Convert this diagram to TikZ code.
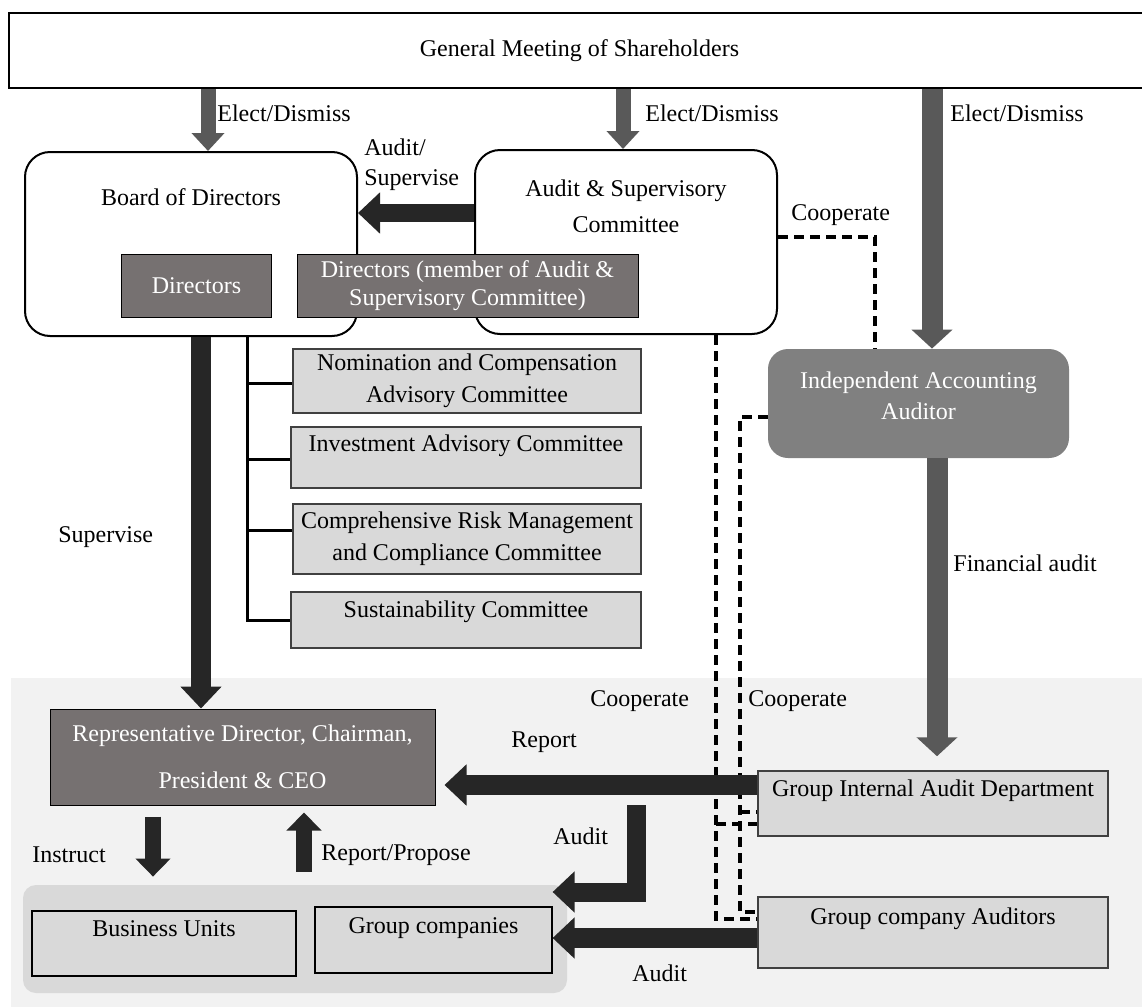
\documentclass[tikz,border=0pt]{standalone}
\usepackage{fontspec}
\setmainfont{Liberation Serif}
\usepackage{xcolor}
\usetikzlibrary{calc}
\usetikzlibrary{arrows.meta}
\definecolor{drk}{HTML}{262626}
\definecolor{gry}{HTML}{595959}
\definecolor{dirfill}{HTML}{767171}
\definecolor{iaafill}{HTML}{808080}
\definecolor{boxfill}{HTML}{D9D9D9}
\definecolor{bgfill}{HTML}{F2F2F2}
\definecolor{boxline}{HTML}{404040}

\begin{document}
\begin{tikzpicture}[x=0.5pt,y=-0.5pt,
    every node/.style={font=\fontsize{12}{16}\selectfont},
    lbl/.style={inner sep=0pt, anchor=west},
    roundbox/.style={draw, line width=1pt, fill=white, rounded corners=12.5pt, inner sep=0pt},
    darkbox/.style={draw=black, line width=0.5pt, fill=dirfill, text=white, align=center, inner sep=0pt},
    combox/.style={draw=boxline, line width=0.75pt, fill=boxfill, align=center, inner sep=0pt},
    unitbox/.style={draw=black, line width=0.6pt, fill=boxfill, inner sep=0pt},
    grayarr/.style={gry, line width=7.5pt, -{Triangle[width=16pt,length=9pt]}},
    bigarr/.style={gry, line width=10.5pt, -{Triangle[width=20pt,length=9.5pt]}},
    blk/.style={drk, line width=10pt, -{Triangle[width=20pt,length=11pt]}},
    blksm/.style={drk, line width=8pt, -{Triangle[width=17pt,length=9pt]}},
    dsh/.style={line width=1.75pt, dash pattern=on 5pt off 3pt}]
    %RAMKA
    \useasboundingbox (0,0) rectangle (1142,1007);
    \clip (0,0) rectangle (1142,1007);
    \fill[bgfill] (11,678) rectangle (1142,1007);
    %KOORDINAT
    \coordinate (e1) at (208,0);
    \coordinate (e2) at (623,0);
    \coordinate (e3) at (932,0);
    \coordinate (as) at (0,213);
    \coordinate (sv) at (201,0);
    \coordinate (fa) at (937,0);
    \coordinate (rp) at (0,785);
    \coordinate (au) at (636,805);
    \coordinate (au2) at (0,892);
    \coordinate (ga) at (0,938);
    \coordinate (ins) at (153,0);
    \coordinate (rpp) at (304,0);
    \coordinate (dk) at (875,237);
    \coordinate (dA) at (716,919);
    \coordinate (dAb) at (716,824);
    \coordinate (dBt) at (740,417);
    \coordinate (dB) at (740,912);
    \coordinate (dBb) at (740,812);
    %KOTAK ATAS
    \node[draw, line width=1pt, fill=white, minimum width=570.5pt, minimum height=37.5pt] (gms) at (579.5,50.5) {General Meeting of Shareholders};
    \node[roundbox, minimum width=166pt, text height=26.5pt, text depth=65.5pt] (board) at (191,244) {Board of Directors};
    \node[roundbox, minimum width=151pt, minimum height=92pt] (asc) at (626,242) {};
    \node[align=center] (asctxt) at (626,206) {Audit \& Supervisory\\[2pt]Committee};
    \node[darkbox, minimum width=75pt, minimum height=31.5pt] (dir) at (196.5,285.5) {Directors};
    \node[darkbox, minimum width=170.5pt, minimum height=31.5pt] (dirasc) at (467.5,285.5) {Directors (member of Audit \&\\[-2pt]Supervisory Committee)};
    %KOMITE
    \node[combox, minimum width=174pt, minimum height=32pt] (nom) at (467,381) {Nomination and Compensation\\Advisory Committee};
    \node[combox, minimum width=175pt, text height=12pt, text depth=18.5pt] (inv) at (466,457.5) {Investment Advisory Committee};
    \node[combox, minimum width=174pt, minimum height=35pt] (crm) at (467,539) {Comprehensive Risk Management\\and Compliance Committee};
    \node[combox, minimum width=175pt, text height=12.5pt, text depth=15.5pt] (sus) at (466,620) {Sustainability Committee};
    \draw[line width=1.5pt] (board.south -| 247,0) |- (sus.west);
    \foreach \c/\h in {nom/383, inv/459, crm/530}
        \draw[line width=1.5pt] (247,\h) -- (\c.west |- 0,\h);
    %AUDITOR
    \node[fill=iaafill, rounded corners=10pt, minimum width=150.5pt, minimum height=54.5pt, inner sep=0pt] (iaa) at (918.5,403.5) {};
    \node[align=center, text=white] (iaatxt) at (918.5,395.5) {Independent Accounting\\[-0.5pt]Auditor};
    %KOTAK BAWAH
    \node[darkbox, minimum width=192.5pt, minimum height=48pt] (ceo) at (242.5,757) {Representative Director, Chairman,\\[7.5pt]President \& CEO};
    \node[fill=boxfill, rounded corners=6.5pt, minimum width=272pt, minimum height=54pt, inner sep=0pt] (grp) at (295,939) {};
    \node[unitbox, minimum width=132pt, text height=12.5pt, text depth=20pt] (bu) at (164,943.5) {Business Units};
    \node[unitbox, minimum width=118.5pt, text height=13pt, text depth=20pt] (gc) at (433.5,940) {Group companies};
    \node[combox, minimum width=175pt, text height=12.5pt, text depth=20pt] (giad) at (933,803.5) {Group Internal Audit Department};
    \node[combox, minimum width=175pt, text height=13.5pt, text depth=22pt] (gca) at (933,932.5) {Group company Auditors};
    %GARIS PUTUS
    \draw[dsh] (asc.east |- dk) -| (iaa.north -| dk);
    \draw[dsh] (asc.south -| dA) |- (gca.west |- dA);
    \draw[dsh] (dAb) -- (giad.west |- dAb);
    \draw[dsh] (iaa.west |- dBt) -- (dBt) |- (gca.west |- dB);
    \draw[dsh] (dBb) -- (giad.west |- dBb);
    %PANAH
    \draw[grayarr] (gms.south -| e1) -- (board.north -| e1);
    \draw[grayarr] (gms.south -| e2) -- (asc.north -| e2);
    \draw[bigarr] (gms.south -| e3) -- (iaa.north -| e3);
    \draw[bigarr, shorten >=7pt] (iaa.south -| fa) -- (giad.north -| fa);
    \draw[blk, line width=9pt] (asc.west |- as) -- (board.east |- as);
    \draw[blk] (board.south -| sv) -- (ceo.north -| sv);
    \draw[blk, shorten >=4.5pt] (giad.west |- rp) -- (ceo.east |- rp);
    \draw[blk, line width=9.5pt] (au) |- (gc.east |- au2);
    \draw[blk] (gca.west |- ga) -- (gc.east |- ga);
    \draw[blksm, shorten <=5.5pt, shorten >=4pt] (ceo.south -| ins) -- (grp.north -| ins);
    \draw[blksm, shorten <=6.5pt, shorten >=3.5pt] (grp.north -| rpp) -- (ceo.south -| rpp);
    %LABEL
    \node[lbl] (le1) at (217,113) {Elect/Dismiss};
    \node[lbl] (le2) at (645,113) {Elect/Dismiss};
    \node[lbl] (le3) at (950,113) {Elect/Dismiss};
    \node[lbl, align=left] (las) at (364,165) {Audit/\\[-1pt]Supervise};
    \node[lbl] (lco1) at (791,215) {Cooperate};
    \node[lbl] (lsv) at (58,537) {Supervise};
    \node[lbl] (lfa) at (953,563) {Financial audit};
    \node[lbl] (lco2) at (590,701) {Cooperate};
    \node[lbl] (lco3) at (748,701) {Cooperate};
    \node[lbl] (lrp) at (511,742) {Report};
    \node[lbl] (lau1) at (553,836) {Audit};
    \node[lbl] (lin) at (32,855) {Instruct};
    \node[lbl] (lrpp) at (321,855) {Report/Propose};
    \node[lbl] (lau2) at (632,973) {Audit};
\end{tikzpicture}
\end{document}
